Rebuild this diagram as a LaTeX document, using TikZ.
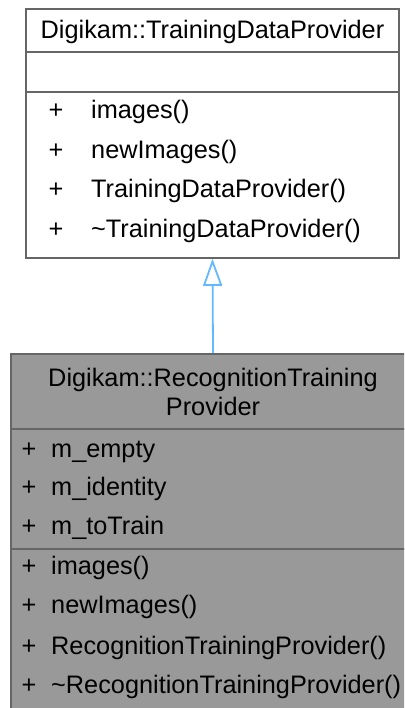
\documentclass[tikz,border=0pt]{standalone}
\usepackage{fontspec}
\setmainfont{Liberation Sans}
\usetikzlibrary{arrows.meta}
\definecolor{bord}{HTML}{666666}
\definecolor{hil}{HTML}{999999}
\definecolor{edgeblue}{HTML}{63B8FF}
\tikzset{
  txt/.style={font=\fontsize{25.3}{30}\selectfont, inner sep=0pt, text=black},
  classbox/.style={draw=bord, line width=1.8pt, inner sep=0pt, anchor=north},
  sepline/.style={draw=bord, line width=1.8pt},
  inherit/.style={draw=edgeblue, line width=1.8pt, -{Triangle[open, length=27pt, width=19pt]}}
}
\begin{document}
\begin{tikzpicture}[x=1pt,y=-1pt]
\useasboundingbox (0,0) rectangle (404,708);
\clip (0,0) rectangle (404,708);
% base class
\node[classbox, fill=white, minimum width=373pt, minimum height=249pt] (base) at (212.5,8) {};
\draw[sepline] (base.west |- 0,52) -- (base.east |- 0,52);
\draw[sepline] (base.west |- 0,92) -- (base.east |- 0,92);
\node[txt, anchor=base] (btitle) at (212.5,39) {Digikam::TrainingDataProvider};
\node[txt, anchor=base] (bp1) at (56,119) {+};
\node[txt, anchor=base west] (bm1) at (91,119) {images()};
\node[txt, anchor=base] (bp2) at (56,159) {+};
\node[txt, anchor=base west] (bm2) at (91,159) {newImages()};
\node[txt, anchor=base] (bp3) at (56,198) {+};
\node[txt, anchor=base west] (bm3) at (91,198) {TrainingDataProvider()};
\node[txt, anchor=base] (bp4) at (56,237) {+};
\node[txt, anchor=base west] (bm4) at (91,237) {\char`\~TrainingDataProvider()};
% derived class
\node[classbox, fill=hil, minimum width=404pt, minimum height=380pt] (der) at (213,353) {};
\draw[sepline] (der.west |- 0,429) -- (der.east |- 0,429);
\draw[sepline] (der.west |- 0,549) -- (der.east |- 0,549);
\node[txt, anchor=base] (dtitle1) at (213,386) {Digikam::RecognitionTraining};
\node[txt, anchor=base] (dtitle2) at (213,415) {Provider};
\node[txt, anchor=base] (dp1) at (29,457) {+};
\node[txt, anchor=base west] (da1) at (51,457) {m\_empty};
\node[txt, anchor=base] (dp2) at (29,495) {+};
\node[txt, anchor=base west] (da2) at (51,495) {m\_identity};
\node[txt, anchor=base] (dp3) at (29,534) {+};
\node[txt, anchor=base west] (da3) at (51,534) {m\_toTrain};
\node[txt, anchor=base] (dp4) at (29,574) {+};
\node[txt, anchor=base west] (dm1) at (51,574) {images()};
\node[txt, anchor=base] (dp5) at (29,613) {+};
\node[txt, anchor=base west] (dm2) at (51,613) {newImages()};
\node[txt, anchor=base] (dp6) at (29,654) {+};
\node[txt, anchor=base west] (dm3) at (51,654) {RecognitionTrainingProvider()};
\node[txt, anchor=base] (dp7) at (29,693) {+};
\node[txt, anchor=base west] (dm4) at (51,693) {\char`\~RecognitionTrainingProvider()};
% inheritance
\draw[inherit] (der.north) -- (base.south);
\end{tikzpicture}
\end{document}
